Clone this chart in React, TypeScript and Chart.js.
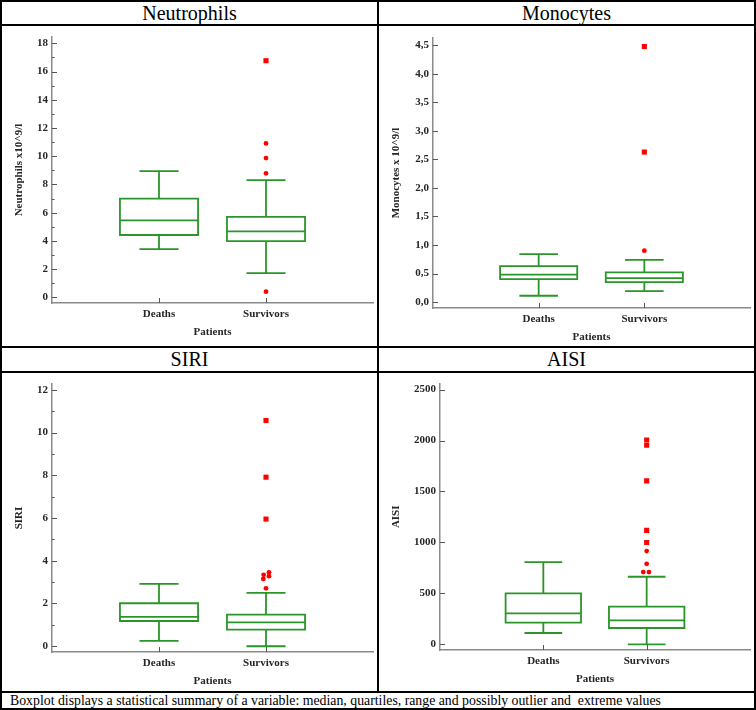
import React, { useEffect, useRef } from 'react';
import { Chart, registerables } from 'chart.js';

Chart.register(...registerables);

// ---------- DATA ----------
const categories = ['Deaths', 'Survivors'];
const xAxisTitle = 'Patients';
const footerText = 'Boxplot displays a statistical summary of a variable: median, quartiles, range and possibly outlier and  extreme values';

// Neutrophils
const neutrophilsMin = [3.42, 1.72];
const neutrophilsQ1 = [4.42, 3.99];
const neutrophilsMedian = [5.46, 4.68];
const neutrophilsQ3 = [6.99, 5.71];
const neutrophilsMax = [8.95, 8.31];
const neutrophilsOutliers = [0.4, 8.79, 9.87, 10.91];
const neutrophilsOutlierJitter = [0, 0, 0, 0];
const neutrophilsExtremes = [16.77];
const neutrophilsExtremeJitter = [0];
const neutrophilsTicks = [0, 2, 4, 6, 8, 10, 12, 14, 16, 18];
const neutrophilsMinorTicks = [1, 3, 5, 7, 9, 11, 13, 15, 17];

// Monocytes
const monocytesMin = [0.11, 0.19];
const monocytesQ1 = [0.4, 0.35];
const monocytesMedian = [0.48, 0.42];
const monocytesQ3 = [0.63, 0.52];
const monocytesMax = [0.84, 0.74];
const monocytesOutliers = [0.9];
const monocytesOutlierJitter = [0];
const monocytesExtremes = [2.63, 4.48];
const monocytesExtremeJitter = [0, 0];
const monocytesTicks = [0, 0.5, 1, 1.5, 2, 2.5, 3, 3.5, 4, 4.5];
const monocytesMinorTicks: number[] = [];

// SIRI
const siriMin = [0.25, 0.0];
const siriQ1 = [1.18, 0.78];
const siriMedian = [1.37, 1.12];
const siriQ3 = [2.01, 1.48];
const siriMax = [2.92, 2.5];
const siriOutliers = [2.71, 3.15, 3.34, 3.28, 3.46];
const siriOutlierJitter = [0, -0.025, -0.022, 0.028, 0.028];
const siriExtremes = [5.95, 7.91, 10.56];
const siriExtremeJitter = [0, 0, 0];
const siriTicks = [0, 2, 4, 6, 8, 10, 12];
const siriMinorTicks = [1, 3, 5, 7, 9, 11];

// AISI
const aisiMin = [111, 0];
const aisiQ1 = [212, 160];
const aisiMedian = [304, 235];
const aisiQ3 = [500, 369];
const aisiMax = [807, 663];
const aisiOutliers = [709, 709, 790, 915];
const aisiOutlierJitter = [-0.033, 0.022, 0, 0];
const aisiExtremes = [1000, 1118, 1604, 1954, 2006];
const aisiExtremeJitter = [0, 0, 0, 0, 0];
const aisiTicks = [0, 500, 1000, 1500, 2000, 2500];
const aisiMinorTicks: number[] = [];

// ---------- STYLE ----------
const GREEN = '#2a962a';
const RED = '#ff0000';
const AXIS = '#8a8a8a';
const TEXT = '#262626';
const SERIF = '"Liberation Serif", "Times New Roman", serif';
const BOX_WIDTH = 0.73; // in category units

type Panel = {
  title: string;
  yTitle: string;
  yMin: number;
  yMax: number;
  yTicks: number[];
  yMinor: number[];
  comma: boolean;
  min: number[];
  q1: number[];
  median: number[];
  q3: number[];
  max: number[];
  outliers: number[];
  outlierJitter: number[];
  extremes: number[];
  extremeJitter: number[];
  outlierCategory: number;
  // layout
  left: number;
  top: number;
  width: number;
  height: number;
  axisLeft: number;
  areaTop: number;
  axisHeight: number;
};

const panels: Panel[] = [
  {
    title: 'Neutrophils', yTitle: 'Neutrophils x10^9/l', yMin: -0.4, yMax: 18.45,
    yTicks: neutrophilsTicks, yMinor: neutrophilsMinorTicks, comma: false,
    min: neutrophilsMin, q1: neutrophilsQ1, median: neutrophilsMedian, q3: neutrophilsQ3, max: neutrophilsMax,
    outliers: neutrophilsOutliers, outlierJitter: neutrophilsOutlierJitter,
    extremes: neutrophilsExtremes, extremeJitter: neutrophilsExtremeJitter, outlierCategory: 1,
    left: 2, top: 26, width: 375, height: 320, axisLeft: 50, areaTop: 11, axisHeight: 43,
  },
  {
    title: 'Monocytes', yTitle: 'Monocytes x 10^9/l', yMin: -0.105, yMax: 4.63,
    yTicks: monocytesTicks, yMinor: monocytesMinorTicks, comma: true,
    min: monocytesMin, q1: monocytesQ1, median: monocytesMedian, q3: monocytesQ3, max: monocytesMax,
    outliers: monocytesOutliers, outlierJitter: monocytesOutlierJitter,
    extremes: monocytesExtremes, extremeJitter: monocytesExtremeJitter, outlierCategory: 1,
    left: 379, top: 26, width: 375, height: 320, axisLeft: 54, areaTop: 12, axisHeight: 38,
  },
  {
    title: 'SIRI', yTitle: 'SIRI', yMin: -0.27, yMax: 12.27,
    yTicks: siriTicks, yMinor: siriMinorTicks, comma: false,
    min: siriMin, q1: siriQ1, median: siriMedian, q3: siriQ3, max: siriMax,
    outliers: siriOutliers, outlierJitter: siriOutlierJitter,
    extremes: siriExtremes, extremeJitter: siriExtremeJitter, outlierCategory: 1,
    left: 2, top: 373, width: 375, height: 318, axisLeft: 50, areaTop: 11, axisHeight: 39,
  },
  {
    title: 'AISI', yTitle: 'AISI', yMin: -56, yMax: 2559,
    yTicks: aisiTicks, yMinor: aisiMinorTicks, comma: false,
    min: aisiMin, q1: aisiQ1, median: aisiMedian, q3: aisiQ3, max: aisiMax,
    outliers: aisiOutliers, outlierJitter: aisiOutlierJitter,
    extremes: aisiExtremes, extremeJitter: aisiExtremeJitter, outlierCategory: 1,
    left: 379, top: 373, width: 375, height: 318, axisLeft: 61, areaTop: 10, axisHeight: 41,
  },
];

function makeBoxPlugin(p: Panel) {
  return {
    id: 'boxes',
    beforeDatasetsDraw(chart: any) {
      const ctx = chart.ctx;
      const xs = chart.scales.x;
      const ys = chart.scales.y;
      ctx.save();
      ctx.strokeStyle = GREEN;
      ctx.lineWidth = 1.8;
      categories.forEach((_, i) => {
        const cx = xs.getPixelForValue(i + 1);
        const half = xs.getPixelForValue(i + 1 + BOX_WIDTH / 2) - cx;
        const cap = half / 2;
        const yMin = ys.getPixelForValue(p.min[i]);
        const yQ1 = ys.getPixelForValue(p.q1[i]);
        const yMed = ys.getPixelForValue(p.median[i]);
        const yQ3 = ys.getPixelForValue(p.q3[i]);
        const yMax = ys.getPixelForValue(p.max[i]);
        ctx.beginPath();
        ctx.rect(cx - half, yQ3, 2 * half, yQ1 - yQ3);
        ctx.moveTo(cx - half, yMed);
        ctx.lineTo(cx + half, yMed);
        ctx.moveTo(cx, yQ3);
        ctx.lineTo(cx, yMax);
        ctx.moveTo(cx - cap, yMax);
        ctx.lineTo(cx + cap, yMax);
        ctx.moveTo(cx, yQ1);
        ctx.lineTo(cx, yMin);
        ctx.moveTo(cx - cap, yMin);
        ctx.lineTo(cx + cap, yMin);
        ctx.stroke();
      });
      ctx.restore();
    },
    afterDraw(chart: any) {
      const ctx = chart.ctx;
      const xs = chart.scales.x;
      const ys = chart.scales.y;
      const left = chart.chartArea.left;
      const bottom = chart.chartArea.bottom;
      ctx.save();
      ctx.strokeStyle = '#555';
      ctx.lineWidth = 1;
      ctx.beginPath();
      p.yTicks.forEach((v) => {
        const y = Math.round(ys.getPixelForValue(v)) + 0.5;
        ctx.moveTo(left, y);
        ctx.lineTo(left + 5, y);
      });
      p.yMinor.forEach((v) => {
        const y = Math.round(ys.getPixelForValue(v)) + 0.5;
        ctx.moveTo(left, y);
        ctx.lineTo(left + 2.5, y);
      });
      categories.forEach((_, i) => {
        const x = Math.round(xs.getPixelForValue(i + 1)) + 0.5;
        ctx.moveTo(x, bottom);
        ctx.lineTo(x, bottom - 5);
      });
      ctx.stroke();
      ctx.restore();
    },
  };
}

function BoxChart({ p }: { p: Panel }) {
  const ref = useRef<HTMLCanvasElement>(null);
  useEffect(() => {
    if (!ref.current) return;
    const tickFont = { family: SERIF, size: 11, weight: 'bold' as const };
    const labelFont = { family: SERIF, size: 11, weight: 'bold' as const };
    const lh = 11 * 1.2;
    const chart = new Chart(ref.current, {
      type: 'scatter',
      data: {
        datasets: [
          {
            data: p.outliers.map((v, i) => ({ x: p.outlierCategory + 1 + p.outlierJitter[i], y: v })),
            pointStyle: 'circle',
            pointRadius: 2.4,
            backgroundColor: RED,
            borderColor: RED,
            borderWidth: 0,
          },
          {
            data: p.extremes.map((v, i) => ({ x: p.outlierCategory + 1 + p.extremeJitter[i], y: v })),
            pointStyle: 'rect',
            pointRadius: 3.6,
            backgroundColor: RED,
            borderColor: RED,
            borderWidth: 0,
          },
        ],
      },
      options: {
        responsive: false,
        animation: false,
        events: [],
        layout: { padding: { top: p.areaTop, left: 0, right: 0, bottom: 0 } },
        plugins: { legend: { display: false }, tooltip: { enabled: false } },
        scales: {
          x: {
            type: 'linear',
            min: 0,
            max: 3,
            afterBuildTicks: (s: any) => {
              s.ticks = categories.map((_, i) => ({ value: i + 1 }));
            },
            afterFit: (s: any) => {
              s.height = p.axisHeight;
            },
            ticks: {
              callback: (v: any) => categories[Math.round(Number(v)) - 1] ?? '',
              font: labelFont,
              color: TEXT,
              padding: 4.4,
              autoSkip: false,
              maxRotation: 0,
            },
            grid: { display: true, drawOnChartArea: false, drawTicks: false },
            border: { display: true, color: AXIS, width: 1.5 },
            title: {
              display: true,
              text: xAxisTitle,
              font: labelFont,
              color: TEXT,
              padding: { top: 0, bottom: Math.max(0, p.axisHeight - 29 - lh / 2) },
            },
          },
          y: {
            type: 'linear',
            min: p.yMin,
            max: p.yMax,
            afterBuildTicks: (s: any) => {
              s.ticks = p.yTicks.map((v) => ({ value: v }));
            },
            afterFit: (s: any) => {
              s.width = p.axisLeft;
            },
            ticks: {
              callback: (v: any) => {
                const n = Number(v);
                return p.comma ? n.toFixed(1).replace('.', ',') : String(n);
              },
              font: tickFont,
              color: TEXT,
              padding: 4,
            },
            grid: { display: true, drawOnChartArea: false, drawTicks: false },
            border: { display: true, color: AXIS, width: 1.5 },
            title: {
              display: true,
              text: p.yTitle,
              font: labelFont,
              color: TEXT,
              padding: { top: 11, bottom: 0 },
            },
          },
        },
      } as any,
      plugins: [makeBoxPlugin(p)],
    });
    return () => chart.destroy();
  }, [p]);
  return (
    <canvas
      ref={ref}
      width={p.width}
      height={p.height}
      style={{ position: 'absolute', left: p.left, top: p.top, width: p.width, height: p.height }}
    />
  );
}

const line = (left: number, top: number, width: number, height: number, key: string) => (
  <div key={key} style={{ position: 'absolute', left, top, width, height, background: '#000' }} />
);

export default function App() {
  return (
    <div
      style={{
        position: 'absolute',
        left: 0,
        top: 0,
        width: 756,
        height: 710,
        background: '#fff',
        overflow: 'hidden',
      }}
    >
      {/* titles */}
      {panels.map((p) => (
        <div
          key={'t' + p.title}
          style={{
            position: 'absolute',
            left: p.left,
            top: p.top === 26 ? 2 : 348,
            width: p.width,
            height: 23,
            lineHeight: '23px',
            fontFamily: SERIF,
            fontSize: 20,
            textAlign: 'center',
            color: '#000',
          }}
        >
          {p.title}
        </div>
      ))}
      {panels.map((p) => (
        <BoxChart key={p.title} p={p} />
      ))}
      <div
        style={{
          position: 'absolute',
          left: 10,
          top: 693,
          height: 15,
          lineHeight: '15px',
          fontFamily: SERIF,
          fontSize: 13.8,
          whiteSpace: 'pre',
          color: '#000',
        }}
      >
        {footerText}
      </div>
      {line(0, 0, 756, 2, 'top')}
      {line(0, 708, 756, 2, 'bottom')}
      {line(0, 0, 2, 710, 'left')}
      {line(754, 0, 2, 710, 'right')}
      {line(377, 0, 2, 692, 'mid')}
      {line(0, 24, 756, 2, 'h1')}
      {line(0, 346, 756, 2, 'h2')}
      {line(0, 371, 756, 2, 'h3')}
      {line(0, 691, 756, 2, 'h4')}
    </div>
  );
}
